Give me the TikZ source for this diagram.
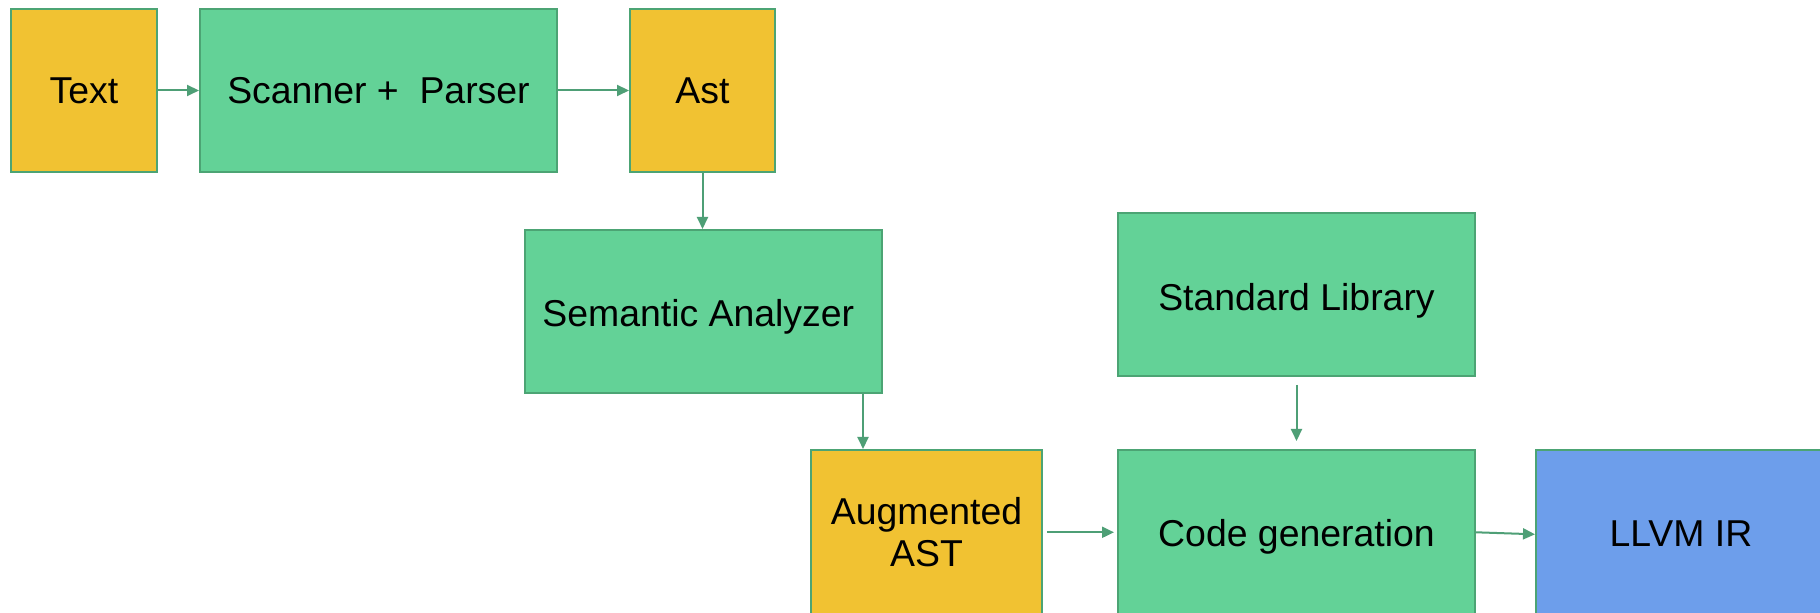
\documentclass[tikz,border=0pt]{standalone}
\usepackage{fontspec}
\setmainfont{Liberation Sans}
\usetikzlibrary{arrows.meta,calc}
\definecolor{gfill}{HTML}{63D297}
\definecolor{yfill}{HTML}{F1C232}
\definecolor{bfill}{HTML}{6D9EEB}
\definecolor{gline}{HTML}{4CA474}
\definecolor{aline}{HTML}{4E9F76}
\newcommand{\shifted}[3]{\hspace*{#1}\raisebox{#2}[\height][\depth]{#3}\hspace*{-#1}}
\begin{document}
\begin{tikzpicture}[x=0.5pt,y=-0.5pt,
  blk/.style={draw=gline, line width=1pt, inner sep=0pt, minimum height=81.5pt,
     align=center, font=\fontsize{18.7}{21}\selectfont},
  lowblk/.style={minimum height=85pt},
  gbox/.style={blk, fill=gfill},
  ybox/.style={blk, fill=yfill},
  bbox/.style={blk, fill=bfill, draw=gline},
  conn/.style={draw=aline, line width=1pt, -{Triangle[length=6pt,width=5.5pt]}}]
\useasboundingbox (0,0) rectangle (1820,613);
\clip (0,0) rectangle (1820,613);
\fill[white] (0,0) rectangle (1820,613);
\node[ybox, minimum width=73pt] (txt) at (84,90.5) {Text};
\node[gbox, minimum width=178.5pt] (scan) at (378.5,90.5) {Scanner +\ \ Parser};
\node[ybox, minimum width=72.5pt] (ast) at (702.5,90.5) {Ast};
\node[gbox, minimum width=178.5pt] (sem) at (703.5,311.5) {\shifted{-2.6pt}{-2.9pt}{Semantic Analyzer}};
\node[gbox, minimum width=178.5pt] (std) at (1296.5,294.5) {\shifted{0pt}{-3.4pt}{Standard Library}};
\node[ybox, lowblk, minimum width=115.5pt] (aug) at (926.5,535) {\shifted{0pt}{-1.2pt}{\begin{tabular}{@{}c@{}}Augmented\\AST\end{tabular}}};
\node[gbox, lowblk, minimum width=178.5pt] (code) at (1296.5,535) {\shifted{0pt}{-1pt}{Code generation}};
\node[bbox, lowblk, minimum width=145pt] (llvm) at (1681,535) {\shifted{0pt}{0.7pt}{LLVM IR}};
\draw[conn] (txt.east) -- (scan.west);
\draw[conn] (scan.east) -- (ast.west);
\draw[conn] (ast.south) -- (ast.south |- sem.north);
\draw[conn] ([xshift=-10pt]sem.south east) -- ([xshift=-10pt]sem.south east |- aug.north);
\draw[conn, shorten <=4pt, shorten >=4pt] (std.south) -- (code.north);
\draw[conn, shorten <=2pt, shorten >=1.5pt] ([yshift=1.35pt]aug.east) -- ([yshift=1.35pt]code.west);
\draw[conn] ([yshift=1.35pt]code.east) -- ([yshift=0.35pt]llvm.west);
\end{tikzpicture}
\end{document}
